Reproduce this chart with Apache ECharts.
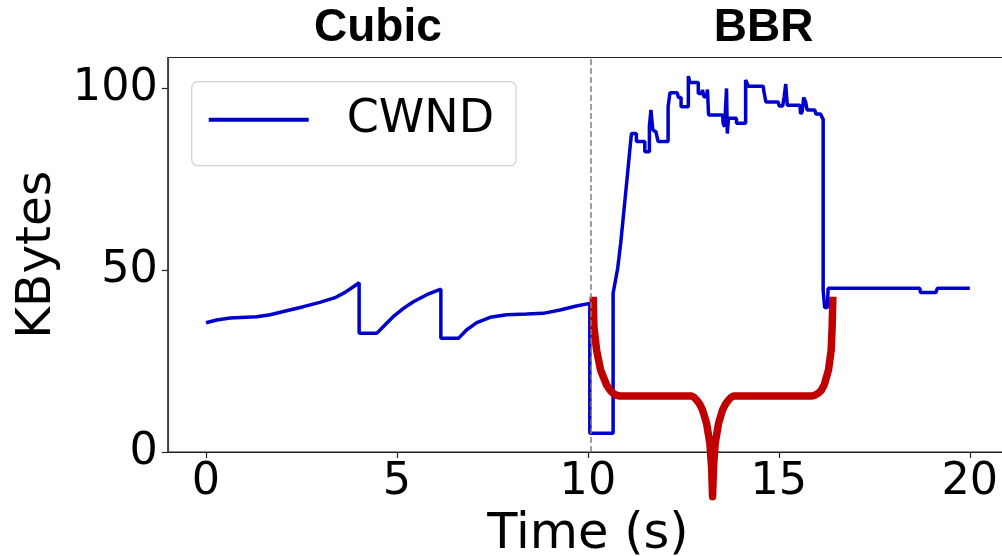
<!DOCTYPE html>
<html>
<head>
<meta charset="utf-8">
<script src="https://cdn.jsdelivr.net/npm/echarts@6/dist/echarts.min.js"></script>
<style>
html,body{margin:0;padding:0;background:#fff;}
#chart{width:1002px;height:556px;}
</style>
</head>
<body>
<div id="chart"></div>
<script>
// ---- data ----
var xTicks = [0, 5, 10, 15, 20];
var yTicks = [0, 50, 100];
var phaseLabels = ['Cubic', 'BBR'];
var switchTime = 10.08;

var cwndTime = [
  0, 0.28, 0.63, 1.33, 1.68, 2.11, 2.55, 2.98, 3.38, 3.64, 3.86, 4.01, 4.01, 4.47, 4.64, 4.90,
  5.17, 5.43, 5.78, 6.15, 6.15, 6.61, 6.82, 7.09, 7.44, 7.87, 8.39, 8.83, 9.27, 9.70, 10.05,
  10.05, 10.66, 10.66, 10.70, 10.78, 10.86, 10.94, 11.02, 11.08, 11.14, 11.27, 11.27,
  11.49, 11.49, 11.61, 11.61, 11.65, 11.68, 11.70, 11.78, 11.84, 12.10, 12.10, 12.15, 12.34,
  12.37, 12.44, 12.44, 12.63, 12.63, 12.67, 12.89, 12.89, 12.98, 13.00, 13.04, 13.11, 13.13,
  13.16, 13.53, 13.54, 13.58, 13.63, 13.65, 13.68, 13.89, 13.89, 14.13, 14.13, 14.20, 14.59,
  14.61, 14.66, 14.98, 15.01, 15.10, 15.14, 15.18, 15.22, 15.55, 15.57, 15.61, 15.65, 15.70,
  15.74, 15.94, 15.97, 16.09, 16.16, 16.16, 16.20, 16.27, 16.29, 18.69, 18.71, 19.11, 19.15, 20.0
];
var cwndValue = [
  35.5, 36.26, 36.81, 37.18, 37.73, 38.83, 39.93, 41.12, 42.40, 43.86, 45.42, 46.52, 32.60, 32.60, 34.43, 37.18,
  39.47, 41.30, 43.22, 44.78, 31.23, 31.23, 33.52, 35.53, 37.0, 37.73, 37.91, 38.10, 39.01, 40.11, 40.84,
  5.13, 5.13, 43.6, 43.6, 50.5, 57.5, 66.0, 74.5, 81.1, 87.5, 87.5, 85.3,
  85.3, 82.5, 82.5, 89.4, 94.0, 94.0, 88.5, 88.0, 85.3, 85.3, 94.9, 98.7, 98.7,
  97.4, 97.4, 94.9, 94.9, 103.3, 101.5, 101.5, 98.5, 98.5, 99.5, 97.6, 97.6, 99.6,
  92.6, 92.6, 90.3, 89.4, 99.9, 87.5, 91.7, 91.7, 90.3, 90.3, 102.2, 100.5, 100.5,
  99.0, 96.2, 96.2, 95.1, 95.1, 97.6, 101.1, 95.3, 95.3, 92.9, 93.5, 97.4, 96.2,
  94.0, 94.0, 92.9, 92.9, 91.4, 44.5, 39.7, 39.7, 45.0, 45.0, 43.8, 43.8, 45.0, 45.0
];

var markTime = [
  10.140, 10.157, 10.227, 10.332, 10.489, 10.580, 10.663, 10.740, 10.838, 12.714, 12.775, 12.845, 12.930, 13.002,
  13.107, 13.194, 13.238, 13.264,
  13.290, 13.333, 13.421, 13.525, 13.600, 13.683, 13.752, 13.813, 15.855, 15.940, 16.030, 16.110, 16.187, 16.300,
  16.370, 16.396, 16.414
];
var markValue = [
  42.67, 34.43, 28.02, 22.53, 18.41, 16.95, 16.12, 15.60, 15.38, 15.38, 15.05, 14.29, 13.10, 11.54,
  7.88, 2.38, -4.03, -12.27,
  -4.03, 2.38, 7.88, 11.54, 13.10, 14.29, 15.05, 15.38, 15.38, 15.60, 16.12, 16.95, 18.41, 22.53,
  28.02, 34.43, 42.67
];

// ---- build ----
function zip(a, b) { var r = []; for (var i = 0; i < a.length; i++) r.push([a[i], b[i]]); return r; }

var chart = echarts.init(document.getElementById('chart'), null, {renderer: 'canvas'});
var FONT = 'DejaVu Sans';

var option = {
  animation: false,
  backgroundColor: '#ffffff',
  grid: {
    left: 167.8, right: -6, top: 57.5, bottom: 104,
    containLabel: false, outerBoundsMode: 'none',
    show: true, borderColor: '#222', borderWidth: 1.2, backgroundColor: 'transparent'
  },
  legend: {
    data: ['CWND'],
    left: 191.7, top: 81.7,
    orient: 'vertical',
    icon: 'rect',
    itemWidth: 100, itemHeight: 4,
    padding: [10, 22, 18, 17],
    backgroundColor: 'rgba(255,255,255,0.8)',
    borderColor: '#d4d4d4', borderWidth: 1.3, borderRadius: 6,
    textStyle: {fontFamily: FONT, fontSize: 46, color: '#000', lineHeight: 56, padding: [0, 0, 0, 33]}
  },
  xAxis: {
    type: 'value', min: -1, max: 21,
    name: 'Time (s)', nameLocation: 'middle', nameGap: 57,
    nameTextStyle: {fontFamily: FONT, fontSize: 49.5, color: '#000'},
    axisLine: {show: true, onZero: false, lineStyle: {color: '#222', width: 1.2}},
    axisTick: {show: true, length: 6, lineStyle: {color: '#222', width: 1.2}, customValues: xTicks},
    axisLabel: {fontFamily: FONT, fontSize: 44.5, color: '#000', margin: 8, customValues: xTicks},
    splitLine: {show: false}
  },
  yAxis: {
    type: 'value', min: 0, max: 108.4,
    name: 'KBytes', nameLocation: 'middle', nameGap: 105,
    nameTextStyle: {fontFamily: FONT, fontSize: 48.5, color: '#000'},
    axisLine: {show: true, onZero: false, lineStyle: {color: '#444', width: 1.2}},
    axisTick: {show: true, length: 6, lineStyle: {color: '#222', width: 1.2}, customValues: yTicks},
    axisLabel: {fontFamily: FONT, fontSize: 44.5, color: '#000', margin: 10, customValues: yTicks},
    splitLine: {show: false}
  },
  series: [
    {
      name: 'CWND', type: 'line', data: zip(cwndTime, cwndValue),
      showSymbol: false, symbol: 'none', color: '#0000cd',
      lineStyle: {color: '#0000cd', width: 3.5},
      z: 2,
      markLine: {
        silent: true, symbol: 'none', label: {show: false},
        lineStyle: {color: '#808080', type: [6, 3], width: 1.5},
        data: [{xAxis: switchTime}]
      }
    },
    {
      name: 'mark', type: 'line', data: zip(markTime, markValue),
      showSymbol: false, symbol: 'none', clip: false, color: '#c00000',
      lineStyle: {color: '#c00000', width: 7.5, cap: 'butt', join: 'round'},
      z: 3
    }
  ]
};
chart.setOption(option);

// phase titles above the plot, positioned through the x scale
function placeTitles() {
  var c = chart.convertToPixel({gridIndex: 0}, [4.5, 0]);
  var b = chart.convertToPixel({gridIndex: 0}, [14.6, 0]);
  chart.setOption({
    graphic: [
      {type: 'text', x: c[0], y: 28, style: {text: phaseLabels[0], fontFamily: 'Liberation Sans', fontWeight: 'bold', fontSize: 46, fill: '#000', align: 'center', verticalAlign: 'middle'}},
      {type: 'text', x: b[0], y: 28, style: {text: phaseLabels[1], fontFamily: 'Liberation Sans', fontWeight: 'bold', fontSize: 46, fill: '#000', align: 'center', verticalAlign: 'middle'}}
    ]
  });
}
placeTitles();
</script>
</body>
</html>
